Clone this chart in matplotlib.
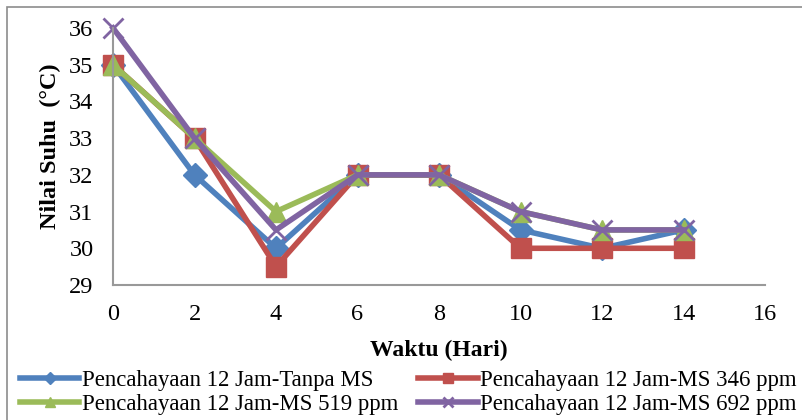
import matplotlib
matplotlib.use('Agg')
import matplotlib.pyplot as plt
from matplotlib.patches import Rectangle

plt.rcParams['font.family'] = ['Liberation Serif', 'DejaVu Serif']

# Suhu harian (°C) tiap perlakuan
hari = [0, 2, 4, 6, 8, 10, 12, 14]
tanpa_ms = [35, 32, 30, 32, 32, 30.5, 30, 30.5]
ms_346 = [35, 33, 29.5, 32, 32, 30, 30, 30]
ms_519 = [35, 33, 31, 32, 32, 31, 30.5, 30.5]
ms_692 = [36, 33, 30.5, 32, 32, 31, 30.5, 30.5]

labels = ['Pencahayaan 12 Jam-Tanpa MS', 'Pencahayaan 12 Jam-MS 346 ppm',
          'Pencahayaan 12 Jam-MS 519 ppm', 'Pencahayaan 12 Jam-MS 692 ppm']

fig = plt.figure(figsize=(8.02, 4.2), dpi=100)
ax = fig.add_axes([113 / 802, 1 - 285 / 420, 652 / 802, 257 / 420])

# bingkai luar chart
fig.patches.append(Rectangle((7 / 802, -0.1), 1.2, 1 - 7 / 420 + 0.1,
                             transform=fig.transFigure, fill=False,
                             edgecolor='#8c8c8c', linewidth=1.2))

kw = dict(lw=4, clip_on=False)
l1, = ax.plot(hari, tanpa_ms, color='#4F81BD', marker='D', ms=12,
              label=labels[0], **kw)
l2, = ax.plot(hari, ms_346, color='#C0504D', marker='s', ms=15,
              label=labels[1], **kw)
l3, = ax.plot(hari, ms_519, color='#9BBB59', marker='^', ms=14,
              label=labels[2], **kw)
l4, = ax.plot(hari, ms_692, color='#8064A2', marker='x', ms=14,
              mew=2, label=labels[3], **kw)

ax.set_xlim(0, 16)
ax.set_ylim(29, 36)
ax.set_xticks(range(0, 17, 2))
ax.set_yticks(range(29, 37))
ax.tick_params(length=0, labelsize=17.5)
ax.tick_params(axis='y', pad=14)
ax.tick_params(axis='x', pad=14)
for s in ['top', 'right']:
    ax.spines[s].set_visible(False)
for s in ['left', 'bottom']:
    ax.spines[s].set_color('#999999')
    ax.spines[s].set_linewidth(1.5)

fig.text(50 / 802, 1 - 146 / 420, 'Nilai Suhu  (°C)', rotation=90,
         ha='center', va='center', fontsize=17.5, fontweight='bold')
fig.text(439 / 802, 1 - 350 / 420, 'Waktu (Hari)', ha='center',
         va='center', fontsize=17, fontweight='bold')

# urutan handle supaya legenda terbaca per baris
fig.legend(handles=[l1, l3, l2, l4], ncol=2, frameon=False, fontsize=16.4,
           loc='upper left', bbox_to_anchor=(20 / 802, 1 - 370 / 420),
           handlelength=2.6, handletextpad=0.1, columnspacing=0.9,
           labelspacing=0.15, borderaxespad=0, borderpad=0, markerscale=0.5)

fig.savefig('out.png', dpi=100)
